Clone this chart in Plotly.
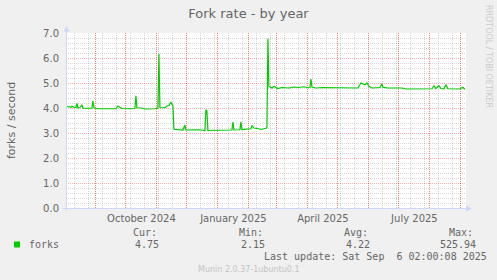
import plotly.graph_objects as go

# ---------------- data ----------------
dates = [
    "2024-08-02", "2024-08-05", "2024-08-07", "2024-08-08", "2024-08-10", "2024-08-12",
    "2024-08-13", "2024-08-14", "2024-08-16", "2024-08-18", "2024-08-19", "2024-08-23",
    "2024-08-28", "2024-08-29", "2024-08-30", "2024-09-02", "2024-09-10", "2024-09-18",
    "2024-09-21", "2024-09-23", "2024-09-25", "2024-09-27", "2024-10-05", "2024-10-09",
    "2024-10-10", "2024-10-11", "2024-10-12", "2024-10-16", "2024-10-20", "2024-10-30",
    "2024-11-01", "2024-11-02", "2024-11-03", "2024-11-04", "2024-11-09", "2024-11-11",
    "2024-11-13", "2024-11-14", "2024-11-15", "2024-11-16", "2024-11-17", "2024-11-18",
    "2024-11-27", "2024-11-29", "2024-11-30", "2024-12-13", "2024-12-18", "2024-12-19",
    "2024-12-20", "2024-12-21", "2024-12-22", "2025-01-03", "2025-01-14", "2025-01-15",
    "2025-01-16", "2025-01-17", "2025-01-23", "2025-01-24", "2025-01-25", "2025-02-01",
    "2025-02-03", "2025-02-04", "2025-02-06", "2025-02-10", "2025-02-13", "2025-02-18",
    "2025-02-19", "2025-02-20", "2025-02-21", "2025-02-24", "2025-02-26", "2025-03-02",
    "2025-03-06", "2025-03-13", "2025-03-18", "2025-03-23", "2025-03-28", "2025-04-01",
    "2025-04-03", "2025-04-04", "2025-04-05", "2025-04-09", "2025-04-16", "2025-05-01",
    "2025-05-11", "2025-05-21", "2025-05-24", "2025-05-26", "2025-05-28", "2025-05-30",
    "2025-06-01", "2025-06-04", "2025-06-12", "2025-06-14", "2025-06-15", "2025-06-20",
    "2025-07-04", "2025-07-08", "2025-07-21", "2025-08-03", "2025-08-05", "2025-08-07",
    "2025-08-10", "2025-08-12", "2025-08-15", "2025-08-17", "2025-08-19", "2025-08-25",
    "2025-08-31", "2025-09-03", "2025-09-05",
]
forks = [
    4.04, 4.06, 4.03, 4.07, 4.03, 4.02,
    4.18, 4.00, 4.02, 4.13, 3.99, 3.99,
    3.99, 4.29, 4.02, 3.97, 3.96, 3.97,
    3.97, 4.08, 4.04, 3.98, 3.97, 3.97,
    3.98, 4.49, 4.01, 4.00, 3.96, 3.97,
    4.00, 4.00, 6.16, 4.02, 4.01, 4.08,
    4.10, 4.18, 4.24, 4.14, 4.10, 3.15,
    3.12, 3.32, 3.12, 3.13, 3.10, 3.10,
    3.93, 3.88, 3.10, 3.12, 3.12, 3.12,
    3.44, 3.12, 3.13, 3.45, 3.14, 3.15,
    3.17, 3.30, 3.20, 3.18, 3.14, 3.19,
    3.22, 6.77, 4.87, 4.80, 4.87, 4.78,
    4.82, 4.80, 4.84, 4.82, 4.85, 4.81,
    4.82, 5.16, 4.84, 4.80, 4.82, 4.81,
    4.81, 4.80, 5.00, 4.98, 4.93, 5.00,
    4.87, 4.80, 4.82, 4.97, 4.83, 4.80,
    4.80, 4.76, 4.76, 4.77, 4.89, 4.78,
    4.89, 4.78, 4.77, 4.93, 4.77, 4.76,
    4.76, 4.83, 4.75,
]

x_label_pos = ["2024-10-16 12:00", "2025-01-16 12:00", "2025-04-16", "2025-07-16 12:00"]
x_label_text = ["October 2024", "January 2025", "April 2025", "July 2025"]

legend_name = "forks"
stat_headers = ["Cur:", "Min:", "Avg:", "Max:"]
stat_values = ["4.75", "2.15", "4.22", "525.94"]

title_text = "Fork rate - by year"
y_title = "forks / second"
last_update = "Last update: Sat Sep  6 02:00:08 2025"
footer = "Munin 2.0.37-1ubuntu0.1"
watermark = "RRDTOOL / TOBI OETIKER"

x_range = ["2024-08-02 02:00", "2025-09-06 02:00"]

# ---------------- layout helpers ----------------
W, H = 497, 280
L, R, T, B = 66, 31, 33, 72
PW, PH = W - L - R, H - T - B


def px(x, y):
    return (x - L) / PW, (H - B - y) / PH


FONT = "DejaVu Sans"
MONO = "DejaVu Sans Mono"
TXT = "#666666"
GREEN = "#00cc00"
AXIS = "#cfd6f8"
MAJOR = "rgba(255,0,0,0.32)"
MAJOR_V = "rgba(255,0,0,0.5)"
MINOR = "rgba(128,128,128,0.32)"
DOT = "1px,1px"

fig = go.Figure()
fig.add_trace(go.Scatter(x=dates, y=forks, mode="lines",
                         line=dict(color=GREEN, width=1.2), hoverinfo="skip",
                         showlegend=False))
fig.add_trace(go.Scatter(x=[], y=[], xaxis="x2", showlegend=False, hoverinfo="skip"))

annotations = []


def add_text(text, x, y, size=10, family=MONO, color=TXT, xanchor="left", angle=0):
    ax, ay = px(x, y)
    annotations.append(dict(text=text, x=ax, y=ay, xref="paper", yref="paper",
                            showarrow=False, xanchor=xanchor, yanchor="middle",
                            textangle=angle,
                            font=dict(family=family, size=size, color=color)))


add_text(y_title, 11, 120, size=11, family=FONT, xanchor="center", angle=-90)
head_x = [131, 236.5, 342, 446.5]
val_right = [161, 267, 372, 478]
for hx, h in zip(head_x, stat_headers):
    add_text(h, hx, 232.5)
for vx, v in zip(val_right, stat_values):
    add_text(v, vx, 244.3, xanchor="right")
add_text(legend_name, 26.5, 244.3)
add_text(last_update, 261.5, 256.5)
add_text(footer, 248.5, 269, size=8, family=FONT, color="#c4c4c4", xanchor="center")
add_text(watermark, 489, 56, size=8, family=FONT, color="#cccccc", xanchor="center", angle=90)

shapes = []


def pline(x0, y0, x1, y1, color, width=1):
    a0, b0 = px(x0, y0)
    a1, b1 = px(x1, y1)
    shapes.append(dict(type="line", xref="paper", yref="paper", x0=a0, y0=b0, x1=a1, y1=b1,
                       line=dict(color=color, width=width), layer="above"))


def ppath(points, color):
    pts = [px(x, y) for x, y in points]
    d = "M " + " L ".join(f"{a},{b}" for a, b in pts) + " Z"
    shapes.append(dict(type="path", xref="paper", yref="paper", path=d,
                       fillcolor=color, line=dict(color=color, width=0), layer="above"))


# axes with arrows
pline(66.5, 211, 66.5, 30, AXIS)
ppath([(63.5, 31.5), (69.5, 31.5), (66.5, 26)], AXIS)
pline(63, 208.5, 467, 208.5, AXIS)
ppath([(466, 205.5), (466, 211.5), (471.5, 208.5)], AXIS)
# legend swatch
a0, b0 = px(14, 241.5)
a1, b1 = px(20, 247.5)
shapes.append(dict(type="rect", xref="paper", yref="paper", x0=a0, y0=b1, x1=a1, y1=b0,
                   fillcolor=GREEN, line=dict(width=0)))

DAY = 86400000

fig.update_layout(
    width=W, height=H,
    margin=dict(l=L, r=R, t=T, b=B),
    paper_bgcolor="#f0f0f0",
    plot_bgcolor="#ffffff",
    title=dict(text=title_text, x=0.5, xref="container", xanchor="center",
               y=1 - 13.5 / H, yref="container", yanchor="middle",
               font=dict(family=FONT, size=13, color=TXT)),
    xaxis=dict(type="date", range=x_range, showticklabels=False, ticks="",
               showgrid=True, gridcolor=MAJOR_V, griddash=DOT, gridwidth=1,
               dtick="M1", tick0="2024-09-01", zeroline=False, showline=False,
               minor=dict(dtick=14 * DAY, tick0="2024-08-11", showgrid=True,
                          gridcolor=MINOR, griddash=DOT, gridwidth=1, ticks="")),
    xaxis2=dict(type="date", range=x_range, overlaying="x", anchor="y", side="bottom",
                tickmode="array", tickvals=x_label_pos, ticktext=x_label_text,
                showgrid=False, ticks="", zeroline=False, showline=False,
                ticklabelstandoff=3,
                tickfont=dict(family=FONT, size=10, color=TXT)),
    yaxis=dict(range=[0, 7], dtick=1, tick0=0, tickformat=".1f",
               showgrid=True, gridcolor=MAJOR, griddash=DOT, gridwidth=1,
               zeroline=False, showline=False, ticks="", ticklabelstandoff=6,
               tickfont=dict(family=FONT, size=10, color=TXT),
               minor=dict(dtick=0.2, tick0=0, showgrid=True, gridcolor=MINOR,
                          griddash=DOT, gridwidth=1, ticks="")),
    annotations=annotations,
    shapes=shapes,
    showlegend=False,
)

fig.write_html("out.html")
